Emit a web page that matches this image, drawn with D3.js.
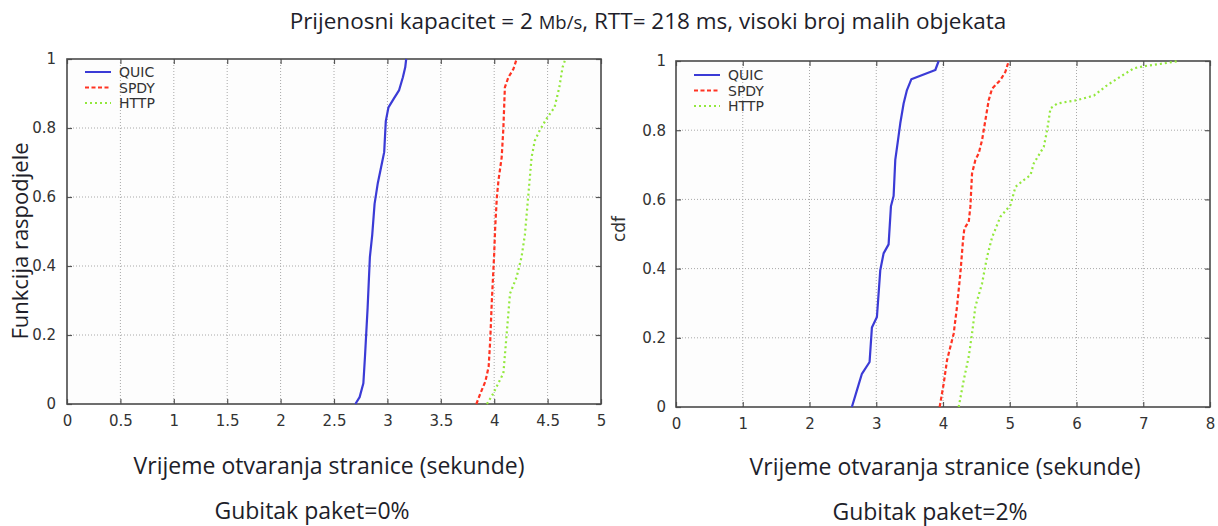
<!DOCTYPE html>
<html>
<head>
<meta charset="utf-8">
<script src="https://cdn.jsdelivr.net/npm/d3@7"></script>
<style>
  html, body { margin: 0; padding: 0; background: #ffffff; }
  svg { display: block; }
</style>
</head>
<body>
<svg id="chart" width="1218" height="526"></svg>
<script>
// ---------- data ----------
const seriesNames = ["QUIC", "SPDY", "HTTP"];

const xTicksLeft = [0, 0.5, 1, 1.5, 2, 2.5, 3, 3.5, 4, 4.5, 5];
const xTickLabelsLeft = ["0", "0.5", "1", "1.5", "2", "2.5", "3", "3.5", "4", "4.5", "5"];
const xTicksRight = [0, 1, 2, 3, 4, 5, 6, 7, 8];
const xTickLabelsRight = ["0", "1", "2", "3", "4", "5", "6", "7", "8"];
const yTicks = [0, 0.2, 0.4, 0.6, 0.8, 1];
const yTickLabels = ["0", "0.2", "0.4", "0.6", "0.8", "1"];

// Left panel (packet loss 0%)
const leftQuicX = [2.70, 2.74, 2.775, 2.79, 2.815, 2.836, 2.858, 2.88, 2.91, 2.95, 2.97, 2.985, 3.01, 3.06, 3.11, 3.145, 3.167, 3.176];
const leftQuicY = [0, 0.02, 0.06, 0.137, 0.28, 0.426, 0.49, 0.58, 0.64, 0.70, 0.73, 0.82, 0.86, 0.885, 0.91, 0.947, 0.976, 1.0];
const leftSpdyX = [3.833, 3.87, 3.917, 3.948, 3.963, 3.978, 4.0, 4.009, 4.025, 4.04, 4.07, 4.086, 4.10, 4.133, 4.18, 4.21];
const leftSpdyY = [0, 0.03, 0.065, 0.108, 0.185, 0.30, 0.436, 0.51, 0.60, 0.648, 0.715, 0.80, 0.918, 0.947, 0.971, 1.0];
const leftHttpX = [3.932, 3.99, 4.086, 4.117, 4.148, 4.21, 4.256, 4.287, 4.318, 4.35, 4.38, 4.426, 4.488, 4.565, 4.61, 4.64, 4.667];
const leftHttpY = [0, 0.03, 0.089, 0.204, 0.32, 0.368, 0.426, 0.49, 0.60, 0.715, 0.763, 0.793, 0.826, 0.86, 0.918, 0.976, 1.0];

// Right panel (packet loss 2%)
const rightQuicX = [2.635, 2.71, 2.785, 2.9, 2.935, 2.96, 3.01, 3.06, 3.11, 3.185, 3.22, 3.26, 3.285, 3.325, 3.36, 3.41, 3.46, 3.525, 3.885, 3.935];
const rightQuicY = [0, 0.048, 0.096, 0.13, 0.23, 0.24, 0.26, 0.395, 0.444, 0.47, 0.58, 0.61, 0.714, 0.77, 0.82, 0.877, 0.916, 0.947, 0.974, 1.0];
const rightSpdyX = [3.95, 4.01, 4.06, 4.16, 4.21, 4.26, 4.30, 4.32, 4.385, 4.41, 4.435, 4.485, 4.535, 4.585, 4.635, 4.685, 4.735, 4.86, 4.935, 4.985];
const rightSpdyY = [0, 0.067, 0.135, 0.212, 0.29, 0.386, 0.482, 0.516, 0.535, 0.579, 0.675, 0.714, 0.733, 0.771, 0.829, 0.887, 0.92, 0.945, 0.969, 1.0];
const rightHttpX = [4.235, 4.31, 4.385, 4.435, 4.485, 4.585, 4.66, 4.735, 4.86, 5.01, 5.085, 5.21, 5.31, 5.36, 5.435, 5.51, 5.56, 5.61, 5.71, 6.01, 6.26, 6.46, 6.66, 6.86, 7.01, 7.31, 7.535];
const rightHttpY = [0, 0.077, 0.145, 0.212, 0.29, 0.357, 0.434, 0.49, 0.55, 0.583, 0.636, 0.656, 0.67, 0.704, 0.728, 0.752, 0.80, 0.863, 0.877, 0.887, 0.90, 0.93, 0.955, 0.979, 0.985, 0.993, 1.0];

const titleParts = ["Prijenosni kapacitet = 2 ", "Mb/s", ", RTT= 218  ms, visoki broj malih objekata"];
const xAxisTitle = "Vrijeme otvaranja stranice (sekunde)";
const leftYTitle = "Funkcija raspodjele";
const rightYTitle = "cdf";
const leftCaption = "Gubitak paket=0%";
const rightCaption = "Gubitak paket=2%";

// ---------- styles ----------
const colors = { QUIC: "#3b3bd6", SPDY: "#ff3322", HTTP: "#92e83c" };
const dashes = { QUIC: null, SPDY: "4,2.5", HTTP: "2,3" };
const tickFont = "'DejaVu Sans', sans-serif";
const titleFont = "'Open Sans', sans-serif";
const textColor = "#1e1e2a";

const svg = d3.select("#chart");

function zip(xs, ys) { return xs.map((x, i) => ({ x: x, y: ys[i] })); }

function drawPanel(opts) {
  const x = d3.scaleLinear().domain(opts.xDomain).range([opts.left, opts.right]);
  const y = d3.scaleLinear().domain([0, 1]).range([opts.bottom, opts.top]);
  const g = svg.append("g");

  g.append("rect").attr("x", opts.left).attr("y", opts.top)
    .attr("width", opts.right - opts.left).attr("height", opts.bottom - opts.top)
    .attr("fill", "#fdfdfd");

  // grid
  g.append("g").selectAll("line").data(opts.xTicks.slice(1, -1)).join("line")
    .attr("x1", d => x(d)).attr("x2", d => x(d))
    .attr("y1", opts.top).attr("y2", opts.bottom)
    .attr("stroke", "#a8a8a8").attr("stroke-width", 1).attr("stroke-dasharray", "1,2");
  g.append("g").selectAll("line").data(yTicks.slice(1, -1)).join("line")
    .attr("x1", opts.left).attr("x2", opts.right)
    .attr("y1", d => y(d)).attr("y2", d => y(d))
    .attr("stroke", "#a8a8a8").attr("stroke-width", 1).attr("stroke-dasharray", "1,2");

  // axes with inward ticks (gnuplot style)
  const axB = g.append("g").attr("transform", `translate(0,${opts.bottom})`)
    .call(d3.axisBottom(x).tickValues(opts.xTicks).tickFormat((d, i) => opts.xLabels[i]).tickSizeInner(-5).tickSizeOuter(0).tickPadding(11));
  const axT = g.append("g").attr("transform", `translate(0,${opts.top})`)
    .call(d3.axisTop(x).tickValues(opts.xTicks).tickFormat("").tickSizeInner(-5).tickSizeOuter(0));
  const axL = g.append("g").attr("transform", `translate(${opts.left},0)`)
    .call(d3.axisLeft(y).tickValues(yTicks).tickFormat((d, i) => yTickLabels[i]).tickSizeInner(-5).tickSizeOuter(0).tickPadding(opts.yPad));
  const axR = g.append("g").attr("transform", `translate(${opts.right},0)`)
    .call(d3.axisRight(y).tickValues(yTicks).tickFormat("").tickSizeInner(-5).tickSizeOuter(0));
  [axB, axT, axL, axR].forEach(a => {
    a.select(".domain").remove();
    a.selectAll(".tick line").attr("stroke", "#555").attr("stroke-width", 1.2);
    a.selectAll("text").attr("font-family", tickFont).attr("font-size", 15).attr("fill", "#333");
  });

  // frame
  g.append("rect").attr("x", opts.left).attr("y", opts.top)
    .attr("width", opts.right - opts.left).attr("height", opts.bottom - opts.top)
    .attr("fill", "none").attr("stroke", "#4a4a4a").attr("stroke-width", 1.6);

  // curves
  const line = d3.line().x(d => x(d.x)).y(d => y(d.y));
  opts.series.forEach(s => {
    g.append("path").datum(zip(s.xs, s.ys))
      .attr("d", line).attr("fill", "none")
      .attr("stroke", colors[s.name]).attr("stroke-width", 2.2)
      .attr("stroke-linejoin", "round")
      .attr("stroke-dasharray", dashes[s.name]);
  });

  // legend
  const lg = g.append("g");
  seriesNames.forEach((n, i) => {
    const ly = opts.legendY + i * 15.5;
    lg.append("line").attr("x1", opts.legendX).attr("x2", opts.legendX + 26)
      .attr("y1", ly).attr("y2", ly)
      .attr("stroke", colors[n]).attr("stroke-width", 2)
      .attr("stroke-dasharray", dashes[n]);
    lg.append("text").attr("x", opts.legendX + 34).attr("y", ly).attr("dy", "0.36em")
      .attr("font-family", tickFont).attr("font-size", 14).attr("fill", "#333")
      .text(n);
  });
}

drawPanel({
  left: 67, right: 601, top: 59, bottom: 404, yPad: 11,
  xDomain: [0, 5], xTicks: xTicksLeft, xLabels: xTickLabelsLeft,
  legendX: 85, legendY: 72,
  series: [
    { name: "QUIC", xs: leftQuicX, ys: leftQuicY },
    { name: "SPDY", xs: leftSpdyX, ys: leftSpdyY },
    { name: "HTTP", xs: leftHttpX, ys: leftHttpY }
  ]
});

drawPanel({
  left: 676, right: 1210, top: 61, bottom: 407, yPad: 10,
  xDomain: [0, 8], xTicks: xTicksRight, xLabels: xTickLabelsRight,
  legendX: 694, legendY: 75,
  series: [
    { name: "QUIC", xs: rightQuicX, ys: rightQuicY },
    { name: "SPDY", xs: rightSpdyX, ys: rightSpdyY },
    { name: "HTTP", xs: rightHttpX, ys: rightHttpY }
  ]
});

// ---------- titles ----------
const title = svg.append("text").attr("x", 648).attr("y", 29)
  .attr("text-anchor", "middle").attr("font-family", titleFont)
  .attr("font-size", 22.5).attr("fill", textColor);
title.append("tspan").text(titleParts[0]);
title.append("tspan").attr("font-size", 18.5).text(titleParts[1]);
title.append("tspan").text(titleParts[2]);

svg.append("text").attr("x", 329).attr("y", 474).attr("text-anchor", "middle")
  .attr("font-family", titleFont).attr("font-size", 23).attr("fill", textColor).text(xAxisTitle);
svg.append("text").attr("x", 945).attr("y", 475).attr("text-anchor", "middle")
  .attr("font-family", titleFont).attr("font-size", 23).attr("fill", textColor).text(xAxisTitle);

svg.append("text").attr("x", 312).attr("y", 519).attr("text-anchor", "middle")
  .attr("font-family", titleFont).attr("font-size", 23).attr("fill", textColor).text(leftCaption);
svg.append("text").attr("x", 930).attr("y", 520).attr("text-anchor", "middle")
  .attr("font-family", titleFont).attr("font-size", 23).attr("fill", textColor).text(rightCaption);

svg.append("text").attr("transform", "translate(28,241) rotate(-90)")
  .attr("text-anchor", "middle").attr("font-family", titleFont)
  .attr("font-size", 22).attr("fill", textColor).text(leftYTitle);
svg.append("text").attr("transform", "translate(625,229) rotate(-90)")
  .attr("text-anchor", "middle").attr("font-family", tickFont)
  .attr("font-size", 17).attr("fill", "#333").text(rightYTitle);
</script>
</body>
</html>
